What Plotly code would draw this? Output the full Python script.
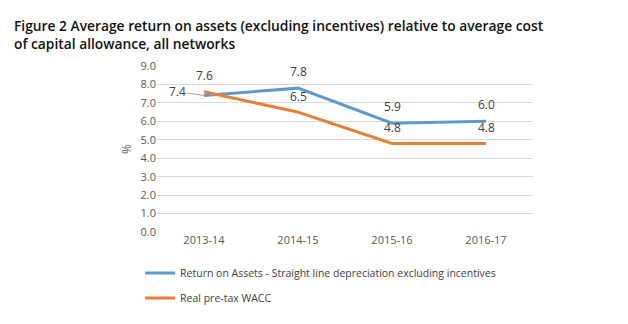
import plotly.graph_objects as go

categories = ["2013-14", "2014-15", "2015-16", "2016-17"]
roa = [7.4, 7.8, 5.9, 6.0]
wacc = [7.6, 6.5, 4.8, 4.8]
roa_name = "Return on Assets - Straight line depreciation excluding incentives"
wacc_name = "Real pre-tax WACC"
y_ticks = [0, 1, 2, 3, 4, 5, 6, 7, 8, 9]
title_text = ("Figure 2 Average return on assets (excluding incentives) relative to average cost"
              "<br>of capital allowance, all networks")

BLUE = "#5B9BD5"
ORANGE = "#ED7D31"
TXT = "#404040"
FONT = "Open Sans"

fig = go.Figure()
fig.add_trace(go.Scatter(x=categories, y=roa, mode="lines", name=roa_name,
                         line=dict(color=BLUE, width=3), legendgroup="a"))
fig.add_trace(go.Scatter(x=categories, y=wacc, mode="lines", name=wacc_name,
                         line=dict(color=ORANGE, width=3), legendgroup="b"))

annotations = []
for i, (c, v) in enumerate(zip(categories, roa)):
    if i == 0:
        annotations.append(dict(x=c, y=v, text=f"{v:.1f}", showarrow=True,
                                ax=-27, ay=-4, arrowhead=0, arrowwidth=0.8,
                                arrowcolor="#8C8C8C", standoff=0,
                                font=dict(size=12, color=TXT, family=FONT)))
    else:
        annotations.append(dict(x=c, y=v, text=f"{v:.1f}", showarrow=False,
                                yshift=17, font=dict(size=12, color=TXT, family=FONT)))
for c, v in zip(categories, wacc):
    annotations.append(dict(x=c, y=v, text=f"{v:.1f}", showarrow=False,
                            yshift=16, font=dict(size=12, color=TXT, family=FONT)))

annotations.append(dict(text=title_text, xref="paper", yref="paper",
                        x=(12 - 157) / 376, y=(234 - 13) / 168,
                        xanchor="left", yanchor="top", align="left", showarrow=False,
                        font=dict(family=FONT, size=13.8, color="#111111", weight=600)))

fig.update_layout(
    width=628, height=324,
    margin=dict(l=157, r=95, t=66, b=90),
    paper_bgcolor="white", plot_bgcolor="white",
    xaxis=dict(type="category", showgrid=False, zeroline=False, showline=False,
               ticks="", tickfont=dict(size=11, color="#595959", family=FONT),
               range=[-0.5, 3.5]),
    yaxis=dict(range=[0, 9], tickvals=y_ticks, tickformat=".1f",
               gridcolor="#D9D9D9", gridwidth=1, zeroline=False, showline=False,
               tickfont=dict(size=11, color="#595959", family=FONT),
               title=dict(text="%", font=dict(size=12, color="#595959", family=FONT), standoff=6)),
    legend=dict(orientation="v", x=-0.045, xanchor="left", y=-0.16, yanchor="top",
                font=dict(size=10.5, color=TXT, family=FONT), tracegroupgap=6,
                itemwidth=30, bgcolor="rgba(0,0,0,0)"),
    annotations=annotations,
    showlegend=True,
)

fig.write_html("out.html")
